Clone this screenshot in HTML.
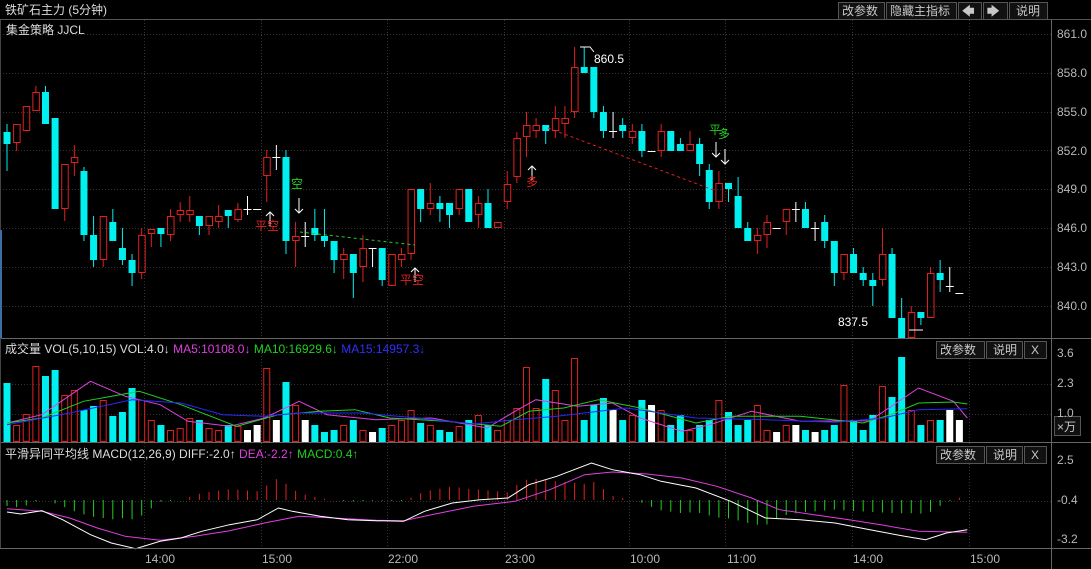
<!DOCTYPE html>
<html><head><meta charset="utf-8">
<style>
html,body{margin:0;padding:0;background:#000;width:1091px;height:569px;overflow:hidden}
svg{display:block}
text{font-family:"Liberation Sans","Noto Sans CJK SC",sans-serif;font-size:12px}
.ax{fill:#b8b8b8}
.bt{fill:#c8c8c8}
</style></head><body>
<svg id="s" width="1091" height="569" xmlns="http://www.w3.org/2000/svg">
<rect width="1091" height="569" fill="#000"/>
<g id="grid"></g>
<g id="cand"></g>
<g id="vol"></g>
<g id="macd"></g>
<!-- frame lines -->
<line x1="0" y1="19.5" x2="1091" y2="19.5" stroke="#555"/>
<line x1="0" y1="338.5" x2="1091" y2="338.5" stroke="#666"/>
<line x1="0" y1="442.5" x2="1091" y2="442.5" stroke="#666"/>
<line x1="0" y1="548.5" x2="1091" y2="548.5" stroke="#666"/>
<line x1="1051.5" y1="20" x2="1051.5" y2="569" stroke="#666"/>
<line x1="0.5" y1="20" x2="0.5" y2="548" stroke="#444"/>
<line x1="1" y1="230" x2="1" y2="338" stroke="#3a6ea5" stroke-width="2"/>
<!-- titles -->
<text x="5" y="14" fill="#ddd">铁矿石主力 (5分钟)</text>
<text x="6" y="34" fill="#ddd">集金策略 JJCL</text>
<!-- buttons -->
<g stroke="#555" fill="#111">
<rect x="838.5" y="2.5" width="46" height="17"/><rect x="886.5" y="2.5" width="70" height="17"/>
<rect x="958.5" y="2.5" width="23" height="17"/><rect x="983.5" y="2.5" width="24" height="17"/>
<rect x="1009.5" y="2.5" width="38" height="17"/>
<rect x="936.5" y="341.5" width="48" height="17"/><rect x="986.5" y="341.5" width="36" height="17"/><rect x="1024.5" y="341.5" width="22" height="17"/>
<rect x="936.5" y="446.5" width="48" height="17"/><rect x="986.5" y="446.5" width="36" height="17"/><rect x="1024.5" y="446.5" width="22" height="17"/>
<rect x="1054.5" y="416.5" width="26" height="19"/>
</g>
<text class="bt" x="842" y="15">改参数</text><text class="bt" x="890" y="15">隐藏主指标</text>
<text class="bt" x="962" y="15" font-weight="bold">🡄</text><text class="bt" x="987" y="15" font-weight="bold">🡆</text>
<text class="bt" x="1016" y="15">说明</text>
<text class="bt" x="940" y="354">改参数</text><text class="bt" x="993" y="354">说明</text><text class="bt" x="1031" y="354">X</text>
<text class="bt" x="940" y="459">改参数</text><text class="bt" x="993" y="459">说明</text><text class="bt" x="1031" y="459">X</text>
<text class="bt" x="1057" y="431">×万</text>
<!-- price axis -->
<text class="ax" x="1057" y="38">861.0</text><text class="ax" x="1057" y="77">858.0</text>
<text class="ax" x="1057" y="116">855.0</text><text class="ax" x="1057" y="155">852.0</text>
<text class="ax" x="1057" y="193">849.0</text><text class="ax" x="1057" y="232">846.0</text>
<text class="ax" x="1057" y="271">843.0</text><text class="ax" x="1057" y="310">840.0</text>
<text class="ax" x="1057" y="357">3.6</text><text class="ax" x="1057" y="387">2.3</text><text class="ax" x="1057" y="417">1.0</text>
<text class="ax" x="1057" y="464">2.5</text><text class="ax" x="1057" y="504">-0.4</text><text class="ax" x="1057" y="543">-3.2</text>
<!-- time axis -->
<g class="ax"><text x="145" y="563">14:00</text><text x="262" y="563">15:00</text><text x="388" y="563">22:00</text><text x="505" y="563">23:00</text><text x="630" y="563">10:00</text><text x="727" y="563">11:00</text><text x="853" y="563">14:00</text><text x="970" y="563">15:00</text></g>
<!-- indicator titles -->
<text x="5" y="353" fill="#ddd">成交量 VOL(5,10,15) VOL:4.0<tspan fill="#ddd">↓</tspan> <tspan fill="#e040e0">MA5:10108.0↓</tspan> <tspan fill="#20d020">MA10:16929.6↓</tspan> <tspan fill="#3030ff">MA15:14957.3↓</tspan></text>
<text x="5" y="458" fill="#ddd">平滑异同平均线 MACD(12,26,9) DIFF:-2.0↑ <tspan fill="#e040e0">DEA:-2.2↑</tspan> <tspan fill="#20d020">MACD:0.4↑</tspan></text>
<!-- annotations -->
<g id="ann" stroke-width="1"></g>
<text x="594" y="63" fill="#fff">860.5</text>
<text x="838" y="326" fill="#fff">837.5</text>
<text x="255" y="230" fill="#e02020">平空</text>
<text x="291" y="188" fill="#20d020">空</text>
<text x="400" y="284" fill="#e02020">平空</text>
<text x="526" y="186" fill="#e02020">多</text>
<text x="709" y="134" fill="#20d020">平</text>
<text x="718" y="138" fill="#20d020">多</text>
</svg>
<script>
const NS="http://www.w3.org/2000/svg";
function el(p,t,a){const e=document.createElementNS(NS,t);for(const k in a)e.setAttribute(k,a[k]);document.getElementById(p).appendChild(e);return e;}
// grid
[34,73,112,150,189,228,267,306].forEach(y=>el("grid","line",{x1:0,y1:y+.5,x2:1051,y2:y+.5,stroke:"#333","stroke-dasharray":"1,2"}));
[384,414,501].forEach(y=>el("grid","line",{x1:0,y1:y+.5,x2:1051,y2:y+.5,stroke:"#333","stroke-dasharray":"1,2"}));
[144,261,387,504,629,725,852,969].forEach(x=>el("grid","line",{x1:x+.5,y1:20,x2:x+.5,y2:548,stroke:"#333","stroke-dasharray":"1,2"}));
// candles: [type, top, bottom, wickTop, wickBot]  C cyan, R red, W white cross, D dash, T t-shape
const D=[
["C",132,144,124,171],["R",124,143,124,151],["R",106,131,106,131],["R",92,111,86,111],["C",92,124,86,124],
["C",118,209,118,209],["R",164,209,164,221],["R",157,163,145,176],["C",171,235,167,241],["C",235,260,216,267],
["R",216,260,216,267],["C",222,241,209,241],["C",248,260,228,265],["C",260,273,254,286],["R",235,273,228,279],
["R",229,234,229,247],["C",228,234,228,247],["R",216,235,209,241],["R",210,215,202,222],["R",210,215,196,222],
["C",216,226,216,235],["R",216,226,216,235],["R",216,222,205,228],["C",210,216,210,228],["R",209,220,203,222],
["W",209,209,196,215],["D",209,209,209,209],["R",157,176,150,202],["W",157,157,145,170],["C",157,241,150,254],
["R",236,241,222,267],["W",236,236,222,247],["C",228,235,209,241],["C",236,241,209,247],["C",241,260,241,273],
["R",254,260,248,279],["C",254,273,254,298],["R",248,267,235,282],["T",248,248,248,267],["C",248,280,248,286],
["R",254,286,254,286],["R",254,260,248,267],["R",189,254,189,260],["C",189,209,189,222],["R",203,209,183,215],
["C",203,209,196,222],["C",203,215,203,228],["R",189,209,189,215],["C",189,222,189,222],["R",203,215,196,228],
["C",203,228,189,228],["R",222,228,222,228],["R",184,202,171,209],["R",138,177,132,183],["R",125,137,112,157],
["R",125,131,118,138],["C",125,131,125,144],["R",118,131,106,138],["R",118,124,106,138],["R",67,112,47,118],
["C",67,73,47,73],["C",67,112,67,118],["C",112,131,106,138],["W",131,131,112,138],["C",125,131,118,138],
["R",131,138,124,144],["C",131,151,124,157],["D",151,151,151,151],["R",131,151,124,157],["C",131,151,131,151],
["C",144,151,138,151],["R",144,151,131,151],["C",144,164,138,176],["C",170,202,164,209],["R",183,202,171,209],
["C",183,189,183,202],["C",196,228,177,228],["C",228,241,222,241],["R",235,241,228,254],["R",222,235,215,248],
["D",228,228,228,228],["R",209,222,209,235],["W",209,209,202,222],["C",209,228,202,228],["W",228,228,222,241],
["C",222,241,215,248],["C",241,273,241,286],["R",254,273,254,280],["C",254,273,248,273],["C",273,280,267,286],
["C",280,286,273,306],["R",254,280,228,286],["C",254,318,248,318],["C",318,338,298,338],["R",312,338,306,338],
["C",312,318,312,325],["R",273,318,267,318],["C",273,280,260,292],["W",286,286,267,292],["D",293,293,293,293]];
const X=i=>7+i*9.62;
const VT=[383,425,414,366,376,370,395,390,410,406,400,416,412,388,400,420,425,430,428,418,420,428,430,425,426,430,425,368,420,382,405,420,425,432,430,425,420,430,432,428,425,420,410,423,425,430,432,426,420,415,425,430,420,408,367,408,379,390,420,358,420,405,398,410,420,415,400,405,410,425,415,430,425,420,400,412,425,420,405,430,432,425,425,430,432,430,425,385,420,430,415,386,397,357,410,425,420,420,410,420];
D.forEach((d,i)=>{const x=X(i),[t,a,b,w1,w2]=d;
 let col=t=="C"?"#00f0f0":t=="R"?"#e02020":"#fff";
 if(t=="C"){el("cand","line",{x1:x,y1:w1,x2:x,y2:w2,stroke:col});el("cand","rect",{x:x-3.5,y:a,width:7,height:Math.max(b-a,1),fill:col});}
 else if(t=="R"){el("cand","line",{x1:x,y1:w1,x2:x,y2:a,stroke:col});el("cand","line",{x1:x,y1:b,x2:x,y2:w2,stroke:col});el("cand","rect",{x:x-3,y:a+.5,width:6.5,height:Math.max(b-a-1,1),fill:"none",stroke:col});}
 else {el("cand","line",{x1:x-4,y1:a+.5,x2:x+4,y2:a+.5,stroke:col});if(w2>w1)el("cand","line",{x1:x,y1:w1,x2:x,y2:w2,stroke:col});}
 // volume
 const vt=VT[i]||420;
 if(t=="R")el("vol","rect",{x:x-3,y:vt+.5,width:6,height:442-vt-1,fill:"none",stroke:col});
 else el("vol","rect",{x:x-3.5,y:vt,width:7,height:442-vt,fill:col});
});
function pl(g,pts,col,sx,dash){const p=pts.map(q=>(q[0]/1.437).toFixed(1)+","+(338+q[1]/3).toFixed(1)).join(" ");const a={points:p,fill:"none",stroke:col};if(dash)a["stroke-dasharray"]=dash;el(g,"polyline",a);}
pl("vol",[[10,255],[60,230],[130,130],[180,175],[230,200],[270,250],[330,265],[380,240],[430,190],[470,230],[540,245],[620,240],[700,270],[740,220],[770,185],[830,205],[880,195],[920,240],[980,280],[1020,260],[1080,220],[1150,250],[1250,248],[1320,150],[1370,190],[1390,240]],"#e040e0");
pl("vol",[[10,255],[60,240],[120,190],[200,160],[260,200],[340,265],[400,230],[460,220],[510,215],[560,240],[640,250],[720,265],[760,220],[810,210],[860,185],[920,210],[1000,255],[1050,235],[1150,235],[1240,255],[1280,230],[1320,195],[1370,192],[1390,198]],"#20d020");
pl("vol",[[10,260],[100,225],[190,185],[260,195],[320,230],[380,235],[430,225],[520,225],[600,240],[680,258],[740,245],[800,235],[900,210],[1000,240],[1100,245],[1200,253],[1270,240],[1320,215],[1390,212]],"#2828ff");
// MACD
const W=[[10,522],[30,528],[60,518],[90,545],[130,590],[160,615],[195,632],[230,610],[260,600],[290,580],[330,560],[370,545],[400,510],[420,520],[460,535],[500,545],[540,548],[580,550],[610,520],[650,495],[690,485],[730,480],[760,440],[800,415],[850,375],[880,395],[920,410],[950,430],[1000,450],[1050,490],[1080,520],[1100,540],[1150,545],[1200,555],[1250,575],[1300,595],[1330,605],[1360,585],[1390,575]];
const M=[[10,512],[60,520],[100,540],[140,570],[180,595],[230,607],[280,595],[330,578],[380,555],[430,535],[480,540],[540,547],[580,548],[620,530],[680,505],[740,490],[790,455],[840,410],[880,402],[930,408],[980,420],[1030,445],[1080,480],[1120,515],[1170,530],[1220,545],[1270,562],[1320,580],[1390,583]];
function interp(P,zx){if(zx<=P[0][0])return P[0][1];for(let k=1;k<P.length;k++)if(zx<=P[k][0]){const a=P[k-1],b=P[k];return a[1]+(b[1]-a[1])*(zx-a[0])/(b[0]-a[0]);}return P[P.length-1][1];}
for(let i=0;i<100;i++){const x=X(i),zx=x*1.437;const h=(interp(M,zx)-interp(W,zx))/3*1.8;
 el("macd","line",{x1:x,y1:500,x2:x,y2:500-h,stroke:h>0?"#e02020":"#20d020"});}
pl("macd",M,"#e040e0");pl("macd",W,"#fff");
// annotations
el("ann","line",{x1:548,y1:128,x2:716,y2:191,stroke:"#e02020","stroke-dasharray":"3,3"});
el("ann","line",{x1:300,y1:232,x2:415,y2:245,stroke:"#20d020","stroke-dasharray":"3,3"});
el("ann","polyline",{points:"580,47 590,47 594,52",fill:"none",stroke:"#fff"});
el("ann","polyline",{points:"909,330 923,330",fill:"none",stroke:"#fff"});
function arr(x,y1,y2){el("ann","line",{x1:x,y1:y1,x2:x,y2:y2,stroke:"#fff"});const tip=y2,d=y2>y1?-4:4;el("ann","polyline",{points:(x-4)+","+(tip+d)+" "+x+","+tip+" "+(x+4)+","+(tip+d),fill:"none",stroke:"#fff"});}
arr(270,226,212);arr(299,198,213);arr(415,282,268);arr(532,180,166);arr(716,142,157);arr(725,149,164);
</script>
</body></html>
